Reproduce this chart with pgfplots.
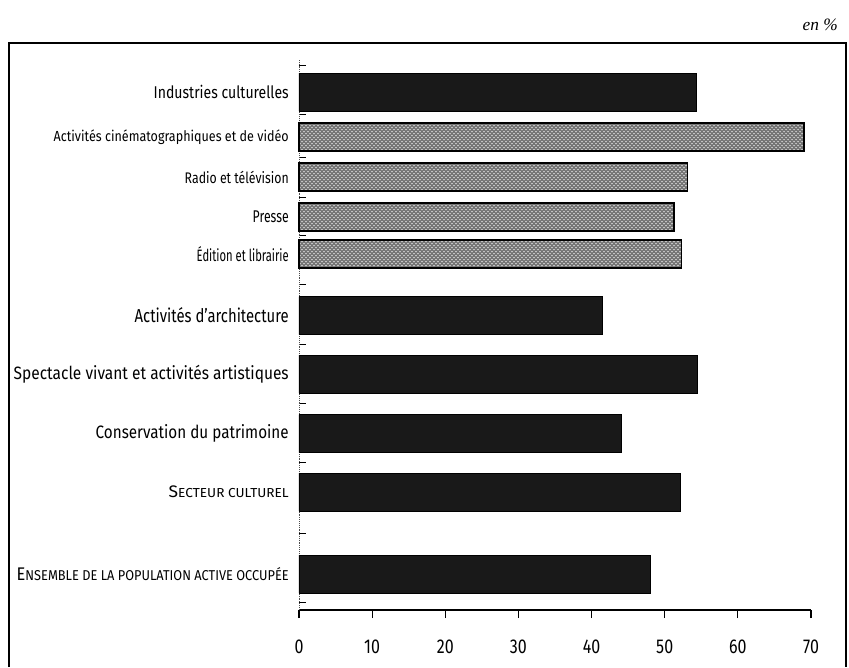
\documentclass[border=0pt]{standalone}
\usepackage{fontspec}
\setmainfont{Fira Sans}
\newfontfamily\serif{Liberation Serif}
\usepackage{pgfplots}
\usepackage{pgfplotstable}
\pgfplotsset{compat=1.18}
\usetikzlibrary{patterns}
\newdimen\pxu \pxu=0.75pt
\newcommand\lab[3]{\resizebox{#1\pxu}{#2\pxu}{#3}}
\newcommand\bigc[1]{{\fontsize{10}{10}\selectfont #1}}
\newcommand\smc[1]{{\fontsize{7.8}{8}\selectfont #1}}

\pgfplotstableread{
y v
92 54.3
315.5 41.5
374 54.5
433.5 44.1
492 52.2
574 48.1
}\bigbars
\pgfplotstableread{
y v
137 69.0
177 53.1
217 51.3
254 52.3
}\smallbars

\begin{document}
\begin{tikzpicture}
\begin{axis}[
  scale only axis, width=384pt, height=412.5pt,
  xmin=0, xmax=70, ymin=60, ymax=610, y dir=reverse,
  axis x line*=bottom, axis y line*=left,
  x axis line style={-, line width=1.1pt},
  y axis line style={-, densely dotted, line width=0.4pt, black!70},
  clip=false,
  tick align=outside,
  xtick={0,10,20,30,40,50,60,70},
  major tick length=6pt,
  every major x tick/.append style={black, line width=0.9pt},
  /pgf/number format/assume math mode=true,
  xticklabel={\scalebox{0.8}[1]{\pgfmathprintnumber{\tick}}},
  xticklabel style={font=\fontsize{15}{15}\selectfont, inner sep=0pt, anchor=north, yshift=-16pt},
  ytick={92,137,177,217,254,315.5,374,433.5,492,574},
  every major y tick/.append style={draw=none},
  minor ytick={65,114.5,157,197,235.5,284.75,344.75,403.75,462.75,533,602},
  minor tick length=5pt,
  every minor y tick/.append style={black, line width=0.5pt, xshift=5pt},
  yticklabel style={anchor=east, inner sep=0pt, xshift=-1.5pt},
  yticklabels={
    {\lab{135}{13.3}{Industries culturelles}},
    {\lab{235}{11.7}{Activités cinématographiques et de vidéo}},
    {\lab{104}{12.3}{Radio et télévision}},
    {\lab{36}{11.7}{Presse}},
    {\lab{92}{15}{Édition et librairie}},
    {\lab{154}{15}{Activités d’architecture}},
    {\lab{275}{14.3}{Spectacle vivant et activités artistiques}},
    {\lab{193}{14}{Conservation du patrimoine}},
    {\lab{120}{11.7}{\bigc{S}\smc{ECTEUR CULTUREL}}},
    {\lab{272}{13}{\bigc{E}\smc{NSEMBLE DE LA POPULATION ACTIVE OCCUPÉE}}}
  },
]
\addplot[xbar, bar shift=0pt, bar width=38, fill=black!90, draw=black, line width=0.6pt]
  table[x=v, y=y] {\bigbars};
\addplot[xbar, bar shift=0pt, bar width=28, fill=black!55, draw=black, line width=1.3pt,
  postaction={pattern=crosshatch dots, pattern color=white}]
  table[x=v, y=y] {\smallbars};
\path (axis cs:-40.879,0) rectangle (axis cs:75.195,667);
\draw[line width=0.9pt] (axis cs:-39.65,667) -- (axis cs:-39.65,43) -- (axis cs:74.785,43) -- (axis cs:74.785,667);
\node[font=\serif\itshape\fontsize{13}{13}\selectfont, anchor=east, inner sep=0pt] at (axis cs:73.7,25) {en \%};
\end{axis}
\end{tikzpicture}
\end{document}
